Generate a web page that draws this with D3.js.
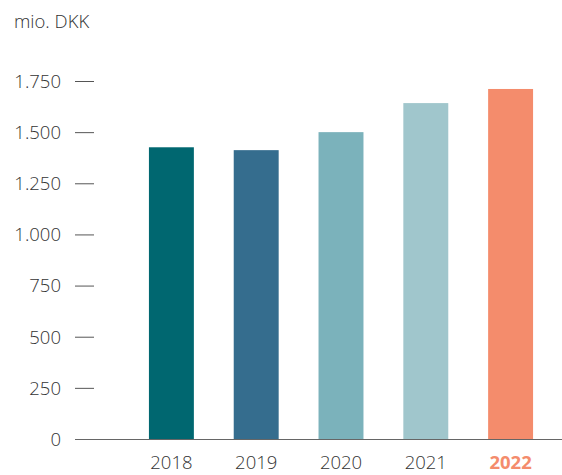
<!DOCTYPE html>
<html>
<head>
<meta charset="utf-8">
<script src="https://cdn.jsdelivr.net/npm/d3@7"></script>
<style>
  body { margin: 0; background: #fff; }
  svg text { font-family: "Open Sans", Lato, sans-serif; }
</style>
</head>
<body>
<div id="chart"></div>
<script>
// chart data
const years = ["2018", "2019", "2020", "2021", "2022"];
const values = [1426, 1412, 1500, 1642, 1711];
const barColors = ["#006770", "#356d8e", "#7bb2bb", "#a0c6cc", "#f48c6c"];
const yTicks = [0, 250, 500, 750, 1000, 1250, 1500, 1750];
const unitLabel = "mio. DKK";

const width = 562, height = 475;

const svg = d3.select("#chart")
    .append("svg")
    .attr("width", width)
    .attr("height", height);

// scales
const x = d3.scaleBand()
    .domain(years)
    .range([129, 553])
    .paddingInner(0.47)
    .paddingOuter(0.235);

const y = d3.scaleLinear()
    .domain([0, 1750])
    .range([439, 81]);

// unit label
svg.append("text")
    .attr("x", 14)
    .attr("y", 28)
    .attr("fill", "#333")
    .style("font-size", "18.5px")
    .style("font-weight", 350)
    .text(unitLabel);

// y axis: labels + short dash
const yAxis = svg.append("g")
    .attr("transform", "translate(94,0)")
    .call(d3.axisLeft(y).tickValues(yTicks).tickSize(19).tickPadding(14)
        .tickFormat(d => d3.format(",")(d).replace(/,/g, ".")));

yAxis.select(".domain").remove();
yAxis.selectAll(".tick line").attr("stroke", "#555");
yAxis.selectAll(".tick text")
    .attr("fill", "#333")
    .attr("dy", "0.34em")
    .style("font-weight", 350)
    .style("font-size", "18.5px");

// bars
svg.selectAll(".bar")
    .data(years)
    .enter()
    .append("rect")
    .attr("class", "bar")
    .attr("x", d => x(d))
    .attr("y", (d, i) => y(values[i]))
    .attr("width", x.bandwidth())
    .attr("height", (d, i) => y(0) - y(values[i]))
    .attr("fill", (d, i) => barColors[i]);

// x axis baseline + year labels
const xAxis = svg.append("g")
    .attr("transform", `translate(0,${y(0)})`)
    .call(d3.axisBottom(x).tickSize(0).tickPadding(17));

xAxis.select(".domain")
    .attr("d", `M75,0.5H${width}`)
    .attr("stroke", "#666");

xAxis.selectAll(".tick text")
    .attr("fill", d => d === "2022" ? "#f48c6c" : "#333")
    .style("font-weight", d => d === "2022" ? "bold" : 350)
    .style("font-size", "18.5px");
</script>
</body>
</html>
